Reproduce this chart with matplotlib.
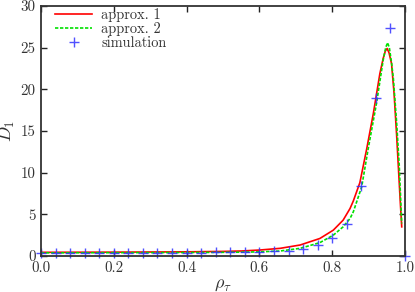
import matplotlib
matplotlib.use("Agg")
import matplotlib.pyplot as plt
import numpy as np

plt.rcParams['font.family'] = 'serif'
plt.rcParams['font.serif'] = ['cmr10']
plt.rcParams['mathtext.fontset'] = 'cm'
plt.rcParams['axes.formatter.use_mathtext'] = True

# approx. 1 (red)
x1 = [0.0, 0.1, 0.2, 0.3, 0.4, 0.5, 0.55, 0.602, 0.657, 0.712, 0.766, 0.803, 0.830, 0.849,
      0.858, 0.876, 0.895, 0.913, 0.931, 0.940, 0.946, 0.951, 0.956, 0.963, 0.970, 0.977,
      0.982, 0.987, 0.991]
y1 = [0.44, 0.45, 0.46, 0.48, 0.5, 0.55, 0.6, 0.72, 0.92, 1.32, 2.1, 3.1, 4.3, 5.7,
      6.6, 8.8, 12.9, 17.1, 21.9, 23.7, 24.6, 24.9, 24.4, 23.1, 19.5, 14.5,
      10.5, 6.5, 3.5]

# approx. 2 (green)
x2 = [0.0, 0.1, 0.2, 0.3, 0.4, 0.5, 0.55, 0.602, 0.657, 0.712, 0.766, 0.803, 0.830, 0.849,
      0.858, 0.881, 0.899, 0.922, 0.940, 0.947, 0.952, 0.957, 0.963, 0.968, 0.977, 0.984,
      0.991]
y2 = [0.38, 0.39, 0.4, 0.41, 0.42, 0.44, 0.46, 0.5, 0.6, 0.92, 1.6, 2.5, 3.5, 4.5,
      5.3, 8.3, 12.9, 18.4, 23.5, 25.0, 25.6, 25.0, 23.2, 21.3, 16.0, 11.0,
      3.9]

# simulation (blue crosses)
xs = [0.0, 0.04, 0.08, 0.12, 0.16, 0.2, 0.24, 0.28, 0.32, 0.36, 0.4, 0.44, 0.48, 0.52, 0.56, 0.6,
      0.64, 0.68, 0.72, 0.76, 0.8, 0.84, 0.88, 0.92, 0.96, 1.0]
ys = [0.4, 0.4, 0.4, 0.4, 0.4, 0.4, 0.4, 0.4, 0.4, 0.4, 0.4, 0.42, 0.43, 0.45, 0.47, 0.5,
      0.6, 0.57, 0.8, 1.3, 2.2, 3.9, 8.4, 19.0, 27.4, 0.0]

xticks = [0.0, 0.2, 0.4, 0.6, 0.8, 1.0]
yticks = [0, 5, 10, 15, 20, 25, 30]

fig = plt.figure(figsize=(4.15, 2.92), dpi=100)
ax = fig.add_axes([41/415, 36/292, 364/415, 250/292])

ax.plot(x1, y1, color='#ff0000', lw=1.2, solid_joinstyle='round', label='approx. 1')
ax.plot(x2, y2, color='#00e000', lw=1.2, ls=(0, (2, 1)), label='approx. 2')
ax.plot(xs, ys, ls='none', marker='+', ms=7, mew=1.0, color='#3333ff', alpha=0.85,
        label='simulation', clip_on=False)

ax.set_xlim(0, 1)
ax.set_ylim(0, 30)
ax.set_xticks(xticks)
ax.set_xticklabels([f"{t:.1f}" for t in xticks])
ax.set_yticks(yticks)
ax.set_yticklabels([str(t) for t in yticks])
ax.tick_params(direction='in', top=True, right=True, length=4, width=1, labelsize=10.8,
               colors='#222222', labelcolor='#333333', pad=4)
for s in ax.spines.values():
    s.set_linewidth(1.3)
    s.set_color('#333333')

ax.set_xlabel(r'$\rho_\tau$', fontsize=13, color='#333333')
ax.xaxis.set_label_coords(0.5, -0.085)
ax.set_ylabel(r'$D_1$', fontsize=13, color='#333333')
ax.yaxis.set_label_coords(-0.066, 0.5)

leg = ax.legend(loc='upper left', bbox_to_anchor=(0.038, 0.992), frameon=False, fontsize=10.4,
                handlelength=2.6, handletextpad=0.6, labelspacing=0.02, borderpad=0.0,
                borderaxespad=0.0)
for t in leg.get_texts():
    t.set_color('#333333')

fig.savefig('out.png', dpi=100)
